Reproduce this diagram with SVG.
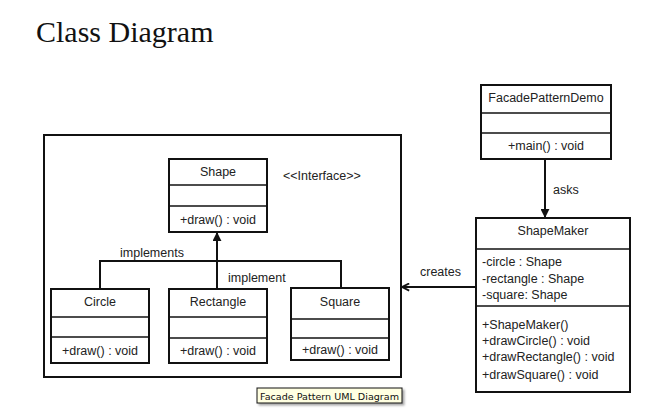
<svg xmlns="http://www.w3.org/2000/svg" width="646" height="418" viewBox="0 0 646 418">
<defs>
<style>
.box{fill:#fff;stroke:#111;stroke-width:2}
.div{stroke:#111;stroke-width:1.6}
.t{font-family:"Liberation Sans",Arial,sans-serif;font-size:12.5px;fill:#222}
.c{text-anchor:middle}
.ln{fill:none;stroke:#111;stroke-width:2}
</style>
<marker id="tri" viewBox="0 0 10 10" refX="9" refY="5" markerWidth="9" markerHeight="9" orient="auto" markerUnits="userSpaceOnUse">
<path d="M0,0 L10,5 L0,10 z" fill="#111"/>
</marker>
<marker id="open" viewBox="0 0 10 10" refX="9" refY="5" markerWidth="9" markerHeight="9" orient="auto" markerUnits="userSpaceOnUse">
<path d="M1,1 L9,5 L1,9" fill="none" stroke="#111" stroke-width="2"/>
</marker>
<filter id="sh" x="-10%" y="-30%" width="130%" height="180%">
<feDropShadow dx="2" dy="2" stdDeviation="1" flood-color="#000" flood-opacity="0.35"/>
</filter>
</defs>
<rect width="646" height="418" fill="#fff"/>
<text x="36" y="42" font-family="'Liberation Serif','Times New Roman',serif" font-size="30" fill="#111">Class Diagram</text>

<rect id="package" x="44" y="135" width="357" height="242" fill="none" stroke="#111" stroke-width="2"/>

<g id="connectors">
<polyline class="ln" points="100,290 100,261 341,261 341,288"/>
<line class="ln" x1="217" y1="290" x2="217" y2="233" marker-end="url(#tri)"/>
<line class="ln" x1="545" y1="159" x2="545" y2="217" marker-end="url(#tri)"/>
<line class="ln" x1="476" y1="287" x2="402" y2="287" marker-end="url(#open)"/>
<text class="t" x="120" y="257">implements</text>
<text class="t" x="228" y="282">implement</text>
<text class="t" x="553" y="194">asks</text>
<text class="t" x="420" y="276">creates</text>
</g>

<g id="Shape">
<rect class="box" x="169" y="159" width="98" height="73"/>
<line class="div" x1="169" y1="185" x2="267" y2="185"/>
<line class="div" x1="169" y1="206" x2="267" y2="206"/>
<text class="t c" x="218" y="176">Shape</text>
<text class="t c" x="218" y="224">+draw() : void</text>
</g>
<text id="interface" class="t" x="283" y="180">&lt;&lt;Interface&gt;&gt;</text>

<g id="Circle">
<rect class="box" x="51" y="289" width="98" height="74"/>
<line class="div" x1="51" y1="317" x2="149" y2="317"/>
<line class="div" x1="51" y1="337" x2="149" y2="337"/>
<text class="t c" x="100" y="306">Circle</text>
<text class="t c" x="100" y="355">+draw() : void</text>
</g>

<g id="Rectangle">
<rect class="box" x="169" y="289" width="98" height="74"/>
<line class="div" x1="169" y1="317" x2="267" y2="317"/>
<line class="div" x1="169" y1="338" x2="267" y2="338"/>
<text class="t c" x="218" y="306">Rectangle</text>
<text class="t c" x="218" y="355">+draw() : void</text>
</g>

<g id="Square">
<rect class="box" x="291" y="288" width="98" height="72"/>
<line class="div" x1="291" y1="319" x2="389" y2="319"/>
<line class="div" x1="291" y1="338" x2="389" y2="338"/>
<text class="t c" x="340" y="306">Square</text>
<text class="t c" x="340" y="354">+draw() : void</text>
</g>

<g id="FacadePatternDemo">
<rect class="box" x="481" y="85" width="130" height="74"/>
<line class="div" x1="481" y1="113" x2="611" y2="113"/>
<line class="div" x1="481" y1="133" x2="611" y2="133"/>
<text class="t c" x="546" y="102">FacadePatternDemo</text>
<text class="t c" x="546" y="150">+main() : void</text>
</g>

<g id="ShapeMaker">
<rect class="box" x="476" y="218" width="154" height="174"/>
<line class="div" x1="476" y1="249" x2="630" y2="249"/>
<line class="div" x1="476" y1="306" x2="630" y2="306"/>
<text class="t c" x="553" y="235">ShapeMaker</text>
<text class="t" x="482" y="266">-circle : Shape</text>
<text class="t" x="482" y="283">-rectangle : Shape</text>
<text class="t" x="482" y="299">-square: Shape</text>
<text class="t" x="482" y="329">+ShapeMaker()</text>
<text class="t" x="482" y="345">+drawCircle()  : void</text>
<text class="t" x="482" y="361">+drawRectangle() : void</text>
<text class="t" x="482" y="379">+drawSquare()  : void</text>
</g>

<g id="tooltip">
<rect x="257" y="388" width="145" height="15" fill="#ffffe1" stroke="#111" stroke-width="1" filter="url(#sh)"/>
<text x="260" y="399.5" font-family="'DejaVu Sans','Liberation Sans',sans-serif" font-size="9.5" fill="#111" textLength="139" lengthAdjust="spacingAndGlyphs">Facade Pattern UML Diagram</text>
</g>
</svg>
